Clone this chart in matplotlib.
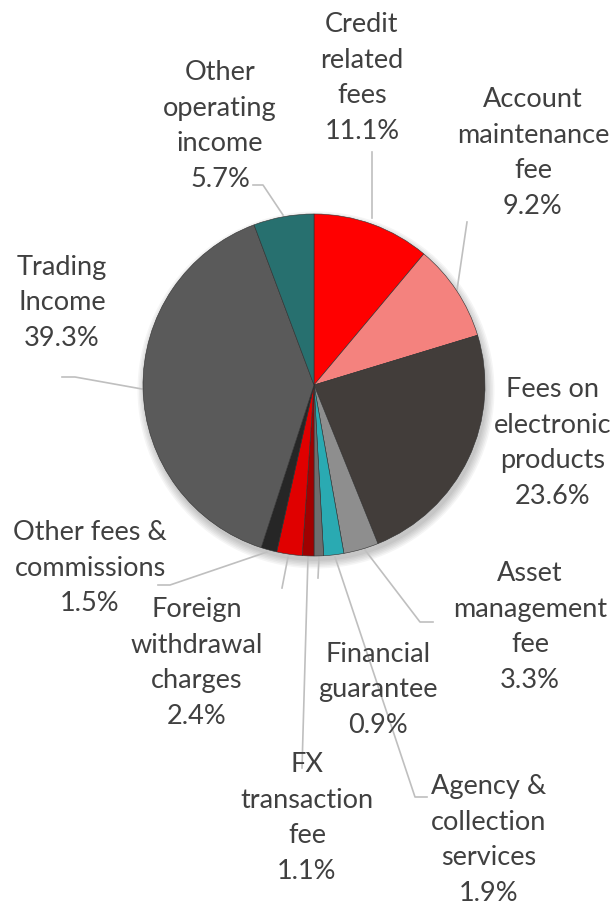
import numpy as np
import matplotlib
matplotlib.use('Agg')
import matplotlib.pyplot as plt
from matplotlib.patches import Circle

# Data
labels = ['Credit\nrelated\nfees', 'Account\nmaintenance\nfee', 'Fees on\nelectronic\nproducts',
          'Asset\nmanagement\nfee', 'Agency &\ncollection\nservices', 'Financial\nguarantee',
          'FX\ntransaction\nfee', 'Foreign\nwithdrawal\ncharges', 'Other fees &\ncommissions',
          'Trading\nIncome', 'Other\noperating\nincome']
shares = [11.1, 9.2, 23.6, 3.3, 1.9, 0.9, 1.1, 2.4, 1.5, 39.3, 5.7]
colors = ['#FF0000', '#F4827E', '#423D3A', '#8E8E8E', '#2AAAB2', '#6E6E6E',
          '#A00000', '#E00000', '#262626', '#5A5A5A', '#27706F']

# Layout (pixels, from top-left)
H = 906
label_xy = [(362, 78), (533, 153), (553, 443), (530, 627), (489, 840), (378, 690),
            (307, 818), (197, 663), (90, 568), (62, 303), (220, 126)]
leaders = [
    [(372, 152), (372, 218)],
    [(467, 222), (457, 290)],
    None,
    [(365, 550), (420, 622), (433, 622)],
    [(335, 557), (415, 797), (427, 797)],
    [(319, 557), (318, 578)],
    [(308, 557), (302, 768)],
    [(288, 557), (282, 588)],
    [(267, 552), (170, 585), (158, 585)],
    [(142, 389), (75, 377), (62, 377)],
    [(283, 215), (263, 185), (253, 185)],
]

fig = plt.figure(figsize=(6.16, 9.06), dpi=100)
ax = fig.add_axes([0, 0, 1, 1])

# soft shadow under the pie
for k in range(6):
    ax.add_patch(Circle((316, H - 390), 171 + k * 1.5, color='black', alpha=0.04, lw=0, zorder=0.2))

wedges, _ = ax.pie(shares, colors=colors, startangle=90, counterclock=False,
                   center=(314, H - 385), radius=171,
                   wedgeprops=dict(edgecolor='#303030', linewidth=0.4))
ax.set_xlim(0, 616)
ax.set_ylim(0, H)
ax.axis('off')

for lab, val, (x, y), ld in zip(labels, shares, label_xy, leaders):
    ax.text(x, H - y, f'{lab}\n{val:.1f}%', ha='center', va='center',
            fontsize=19.5, family='Lato', color='#404040', linespacing=1.52)
    if ld is not None:
        xs = [p[0] for p in ld]
        ys = [H - p[1] for p in ld]
        ax.plot(xs, ys, color='#BFBFBF', lw=1.2, zorder=0.5)

fig.savefig('out.png', dpi=100)
